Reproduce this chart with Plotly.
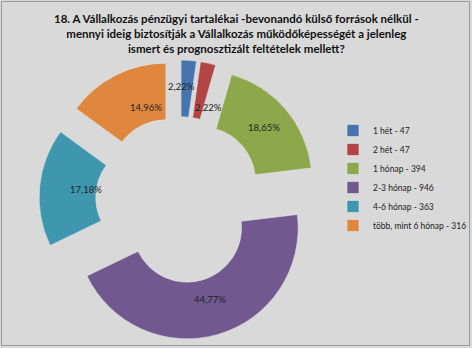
import math
import plotly.graph_objects as go

# Survey answers: how long the company's own reserves keep it running
categories = ["1 hét", "2 hét", "1 hónap", "2-3 hónap", "4-6 hónap", "több, mint 6 hónap"]
counts = [47, 47, 394, 946, 363, 316]
colors = ["#4674AE", "#B24543", "#8DA84B", "#71598F", "#3E97AE", "#E0873F"]

title_text = ("18. A Vállalkozás pénzügyi tartalékai -bevonandó külső források nélkül -<br>"
              "mennyi ideig biztosítják a Vállalkozás működőképességét a jelenleg<br>"
              "ismert és prognosztizált feltételek mellett?")

W, H = 472, 348
PULL = 0.26
HOLE = 0.49
# pie box in pixels (left, top, right, bottom)
BOX = (39, 60, 319, 340)

legend_labels = [f"{c} - {v}" for c, v in zip(categories, counts)]
total = sum(counts)
shares = [v / total * 100 for v in counts]

fig = go.Figure()
fig.add_trace(go.Pie(
    labels=legend_labels,
    values=counts,
    sort=False,
    direction="clockwise",
    rotation=0,
    hole=HOLE,
    pull=[PULL] * len(counts),
    marker=dict(colors=colors, line=dict(color="#E4E4E4", width=0.6)),
    textinfo="none",
    hoverinfo="label+percent",
    domain=dict(x=[BOX[0] / W, BOX[2] / W], y=[1 - BOX[3] / H, 1 - BOX[1] / H]),
))

# percentage labels placed in the middle of each pulled ring segment
cx = (BOX[0] + BOX[2]) / 2
cy = (BOX[1] + BOX[3]) / 2
R = min(BOX[2] - BOX[0], BOX[3] - BOX[1]) / 2 / (1 + PULL)
r_mid = R * (1 + HOLE) / 2
# small radial / angular nudges (px, deg) for the two narrow slices
nudges = [(9, -3.5), (-7, 6), (0, 0), (0, 0), (0, 0), (0, 0)]
start = 0.0
for share, (dr, da) in zip(shares, nudges):
    span = share / 100 * 360
    mid = start + span / 2
    a = math.radians(mid)
    sx = cx + PULL * R * math.sin(a)
    sy = cy - PULL * R * math.cos(a)
    b = math.radians(mid + da)
    lx = sx + (r_mid + dr) * math.sin(b)
    ly = sy - (r_mid + dr) * math.cos(b)
    fig.add_annotation(
        x=lx / W, y=1 - ly / H, xref="paper", yref="paper",
        text=f"{share:.2f}%".replace(".", ","), showarrow=False,
        font=dict(family="Lato", size=9.5, color="#1F1F1F"),
    )
    start += span

# chart title
fig.add_annotation(
    x=0.5, y=1 - 10 / H, xref="paper", yref="paper", xanchor="center", yanchor="top",
    text=f"<b>{title_text}</b>", showarrow=False, align="center",
    font=dict(family="Lato", size=11.5, color="#111111"),
)

# outer chart frame
fig.add_shape(type="rect", xref="paper", yref="paper",
              x0=1.5 / W, x1=1 - 2.5 / W, y0=2.5 / H, y1=1 - 1.5 / H,
              line=dict(color="#9A9A9A", width=1))

fig.update_layout(
    width=W, height=H,
    margin=dict(l=0, r=0, t=0, b=0),
    paper_bgcolor="#D9D9D9",
    plot_bgcolor="#D9D9D9",
    legend=dict(x=333 / W, y=1 - 116 / H, xanchor="left", yanchor="top",
                bgcolor="rgba(0,0,0,0)", font=dict(family="Lato", size=8.5, color="#222222"),
                itemwidth=30),
    showlegend=True,
)

fig.write_html("out.html")
